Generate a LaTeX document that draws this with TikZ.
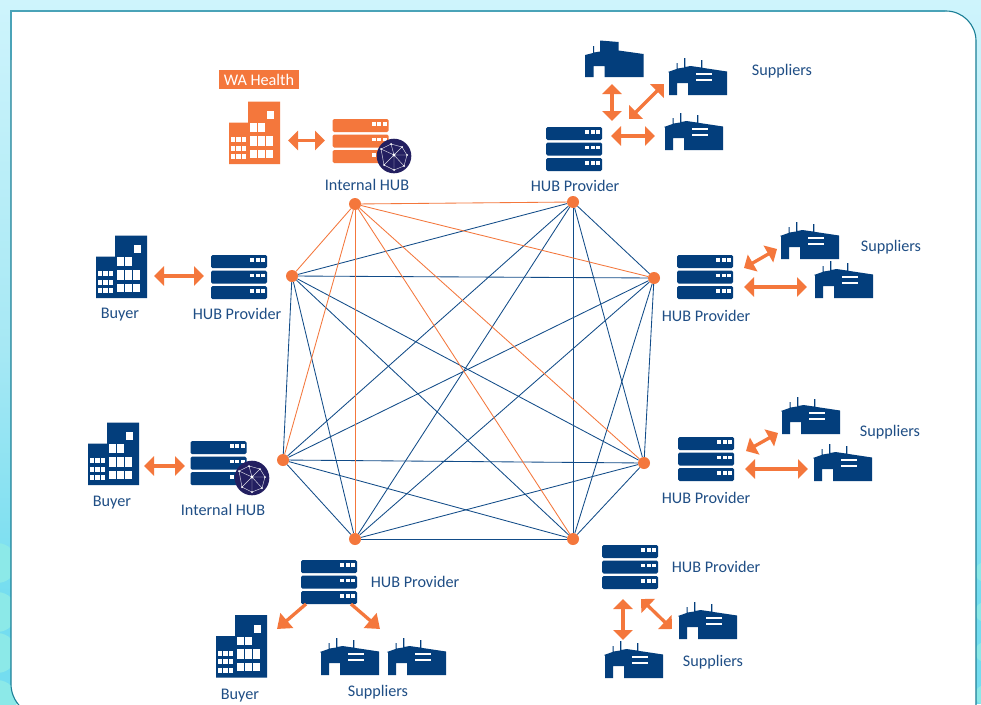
\documentclass[tikz,border=0pt]{standalone}
\usepackage{fontspec}
\setmainfont{Carlito}
\usetikzlibrary{arrows.meta,calc}
\definecolor{navy}{HTML}{033E7C}
\definecolor{edgeblue}{HTML}{124C88}
\definecolor{orng}{HTML}{F4773C}
\definecolor{txtblue}{HTML}{1F4E85}
\definecolor{globe}{HTML}{231F60}
\definecolor{rimdark}{HTML}{1A7F96}
\definecolor{rimlight}{HTML}{4AA3B8}
\definecolor{bgtop}{HTML}{CEF4FC}
\definecolor{bgmid}{HTML}{A6E8F4}
\definecolor{bgbot}{HTML}{74DDF0}
\definecolor{blob}{HTML}{8CE9E8}
\tikzset{
  x=1pt,y=-1pt,
  lab/.style={text=txtblue,font=\fontsize{16.2}{17}\selectfont,inner sep=0pt,anchor=center},
  hubdot/.style={circle,fill=orng,inner sep=0pt,minimum size=12pt},
  blueedge/.style={draw=edgeblue,line width=0.85pt},
  orangeedge/.style={draw=orng,line width=0.85pt},
  bidir/.style={draw=orng,line width=3.3pt,{Triangle[length=10pt,width=19pt]}-{Triangle[length=10pt,width=19pt]}},
  onedir/.style={draw=orng,line width=3.3pt,-{Triangle[length=13pt,width=19pt]}},
}
\newcommand{\serverstack}[3]{%
  \begin{scope}[shift={(#1,#2)}]
    \foreach \yy in {0,15.5,31}{
      \fill[#3,rounded corners=1.5pt] (0,\yy) rectangle (56,\yy+13);
      \foreach \xx in {39,44.5,50}{\fill[white] (\xx,\yy+3) rectangle (\xx+4,\yy+6.5);}
    }
  \end{scope}}
\newcommand{\officeblock}[3]{%
  \begin{scope}[shift={(#1,#2)}]
    \fill[#3] (0,62.5) -- (0,21) -- (19,21) -- (19,0) -- (51,0) -- (51,62.5) -- cycle;
    \fill[white] (38,9.5) rectangle (44.5,17.5);
    \foreach \xx in {21,29}{\fill[white] (\xx,21.5) rectangle (\xx+7,30);}
    \foreach \yy/\hh in {34/10,48/8}{\foreach \xx in {21,29,37}{\fill[white] (\xx,\yy) rectangle (\xx+7,\yy+\hh);}}
    \foreach \yy in {35.5,44,52.5}{\foreach \xx in {2,7.4,12.8}{\fill[white] (\xx,\yy) rectangle (\xx+4.1,\yy+5);}}
  \end{scope}}
\newcommand{\shedtall}[2]{%
  \begin{scope}[shift={(#1,#2)}]
    \fill[navy] (0,37) -- (0,15) -- (8,13) -- (8,6) -- (9.2,6) -- (9.2,12.5) -- (15,11.5) -- (15,0.5) -- (33.5,2) -- (33.5,10.5) -- (58.5,14) -- (58.5,37) -- (19.5,37) -- (19.5,26) -- (8.5,26) -- (8.5,37) -- cycle;
  \end{scope}}
\newcommand{\shed}[2]{%
  \begin{scope}[shift={(#1,#2)}]
    \fill[navy] (1,37) -- (1,14.5) -- (0,14) -- (8.5,11) -- (8.5,5) -- (9.7,5) -- (9.7,10.5) -- (16,9.5) -- (16,0) -- (17.3,0) -- (17.3,9) -- (22.5,8) -- (33,9.5) -- (33,2) -- (34.3,2) -- (34.3,9.8) -- (59,13.5) -- (59,37) -- (20,37) -- (20,25) -- (9,25) -- (9,37) -- cycle;
    \fill[white] (27.5,15) rectangle (44,17.2);
    \fill[white] (27.5,21) rectangle (44,23.2);
  \end{scope}}
\newcommand{\netglobe}[2]{%
  \begin{scope}[shift={(#1,#2)}]
    \fill[globe] (0,0) circle (17.3);
    \draw[white,opacity=.85,line width=.45pt] (-13,-7) -- (-3,-12) -- (8,-9) -- (13,-1) -- (10,10) -- (0,14) -- (-10,9) -- (-13,-7)
      (-3,-12) -- (0,-1) -- (13,-1) (0,-1) -- (-10,9) (0,-1) -- (10,10) (0,-1) -- (0,14) (8,-9) -- (0,-1) (-13,-7) -- (0,-1);
    \foreach \p in {(-13,-7),(-3,-12),(8,-9),(13,-1),(10,10),(0,14),(-10,9)}{\fill[white] \p circle (1);}
    \fill[white] (0,-1) circle (1.6);
  \end{scope}}
\newcommand{\biarrow}[5]{%
  \coordinate (#1s) at (#2,#3); \coordinate (#1e) at (#4,#5);
  \draw[bidir] (#1s) -- (#1e);}
\begin{document}
\begin{tikzpicture}
\useasboundingbox (0,0) rectangle (981,704);
% background
\fill[bgbot] (0,0) rectangle (981,704);
\shade[top color=bgtop,bottom color=bgmid] (0,0) rectangle (981,350);
\shade[top color=bgmid,bottom color=bgbot] (0,350) rectangle (981,600);
\begin{scope}
  \clip (0,540) rectangle (981,704);
  \foreach \yy in {563,612,653,700}{\fill[blob] (-3,\yy) circle (20);}
  \foreach \yy in {572,612,652,695}{\fill[blob] (985,\yy) circle (10);}
\end{scope}
% panel
\fill[white] (11,11) -- (946,11) arc[start angle=-90,end angle=0,radius=30] -- (976,716) -- (43,716) arc[start angle=90,end angle=180,radius=32] -- cycle;
\draw[rimdark,line width=1.1pt] (11,684) -- (11,11) -- (946,11) arc[start angle=-90,end angle=0,radius=30] -- (976,716) (43,716) arc[start angle=90,end angle=180,radius=32];
\draw[rimlight,line width=1.8pt] (11,60) -- (11,11) -- (945,11);
% hubs
\node[hubdot] (a) at (355,204) {};
\node[hubdot] (b) at (573,202) {};
\node[hubdot] (c) at (654,278) {};
\node[hubdot] (d) at (644,463) {};
\node[hubdot] (e) at (573,539) {};
\node[hubdot] (f) at (355,539) {};
\node[hubdot] (g) at (283,460) {};
\node[hubdot] (h) at (292,276) {};
\foreach \s/\t in {b/c,b/d,b/e,b/f,b/g,b/h,c/d,c/e,c/f,c/g,c/h,d/e,d/f,d/g,d/h,e/f,e/g,e/h,f/g,f/h,g/h}{\draw[blueedge] (\s) -- (\t);}
\foreach \t in {b,c,d,e,f,g,h}{\draw[orangeedge] (a) -- (\t);}
% icons
\fill[orng] (219,70) rectangle (299,89);
\node[text=white,font=\fontsize{16.2}{17}\selectfont,inner sep=0pt] (wa) at (259,79.5) {WA Health};
\officeblock{229}{101.5}{orng}
\serverstack{332.5}{119}{orng}
\netglobe{394}{156}
\node[lab] (l1) at (367,184.8) {Internal HUB};
\biarrow{a1}{288}{140.5}{325}{140.5}

\shedtall{585}{40}
\shed{668}{58}
\shed{664}{113}
\serverstack{546}{127}{navy}
\node[lab] (l2) at (575,185.8) {HUB Provider};
\node[lab] (l3) at (782,71.5) {Suppliers};
\biarrow{a2}{612}{84}{612}{121}
\biarrow{a3}{664}{84}{629}{119}
\biarrow{a4}{611}{136}{655}{136}

\officeblock{96}{235.5}{navy}
\serverstack{211}{255}{navy}
\node[lab] (l4) at (120,314.5) {Buyer};
\node[lab] (l5) at (237,313.8) {HUB Provider};
\biarrow{a5}{154}{276}{204}{276}

\serverstack{677}{255}{navy}
\shed{780}{222}
\shed{814}{261}
\node[lab] (l6) at (706,315.8) {HUB Provider};
\node[lab] (l7) at (891,247.5) {Suppliers};
\biarrow{a6}{744}{268}{777}{249}
\biarrow{a7}{744}{287}{807}{287}

\serverstack{678}{437}{navy}
\shed{781}{397}
\shed{813}{444}
\node[lab] (l8) at (706,497.8) {HUB Provider};
\node[lab] (l9) at (890,432.5) {Suppliers};
\biarrow{a8}{746}{451}{778}{433}
\biarrow{a9}{745}{469}{808}{469}

\officeblock{88}{422.5}{navy}
\serverstack{190.5}{441}{navy}
\netglobe{252}{478}
\node[lab] (l10) at (112,502.5) {Buyer};
\node[lab] (l11) at (223,509.8) {Internal HUB};
\biarrow{a10}{144}{466}{185}{466}

\serverstack{602}{545}{navy}
\shed{678}{602}
\shed{604}{641}
\node[lab] (l12) at (716,566.8) {HUB Provider};
\node[lab] (l13) at (713,662.5) {Suppliers};
\biarrow{a11}{623}{599}{623}{640}
\biarrow{a12}{641}{599}{672}{629}

\serverstack{301}{560}{navy}
\officeblock{216}{615}{navy}
\shed{320}{638}
\shed{387}{638}
\node[lab] (l14) at (415,581.8) {HUB Provider};
\node[lab] (l15) at (240,695.5) {Buyer};
\node[lab] (l16) at (378,692.5) {Suppliers};
\coordinate (s1) at (306,604); \coordinate (t1) at (277,629);
\coordinate (s2) at (351,604); \coordinate (t2) at (380,629);
\draw[onedir] (s1) -- (t1);
\draw[onedir] (s2) -- (t2);
\end{tikzpicture}
\end{document}
